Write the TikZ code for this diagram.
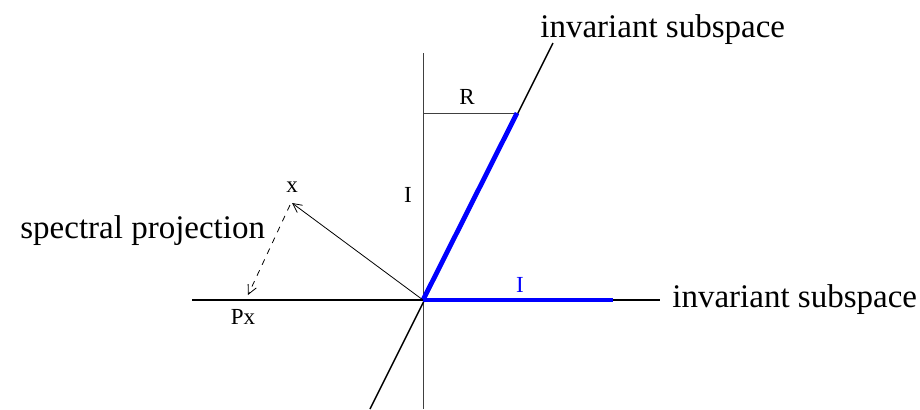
\documentclass[tikz,border=0pt]{standalone}
\usepackage{fontspec}
\setmainfont{Liberation Serif}
\usetikzlibrary{arrows, arrows.meta, positioning}
\tikzstyle{axisline} = [black, line width=0.75pt]
\tikzstyle{thinline} = [black!75, line width=0.5pt]
\tikzstyle{invline} = [blue, line width=2.4pt]
\tikzstyle{arrow} = [line width=0.4pt, ->, >={Straight Barb[length=4.5pt, width=4.5pt]}]
\tikzstyle{biglabel} = [font=\fontsize{16.5}{19}\selectfont, inner sep=0pt]
\tikzstyle{smalllabel} = [font=\fontsize{11.5}{14}\selectfont, inner sep=0pt]

\begin{document}
\begin{tikzpicture}[x=0.5pt, y=-0.5pt]
\useasboundingbox (0,0) rectangle (920,409);

% origin and line ends
\coordinate (O) at (423,300);
\coordinate (vtop) at (423,53);
\coordinate (vbot) at (423,409);
\coordinate (hleft) at (192,300);
\coordinate (hright) at (660,300);
\coordinate (otop) at (553,43);
\coordinate (obot) at (370,409);
\coordinate (rend) at (517,113);
\coordinate (rstart) at (423,113);
\coordinate (iend) at (613,300);
\coordinate (xpt) at (292,203);
\coordinate (pxpt) at (248,295);

\draw [thinline] (vtop) -- (vbot);
\draw [thinline] (rstart) -- (rend);
\draw [axisline] (hleft) -- (hright);
\draw [axisline] (obot) -- (otop);
\draw [invline] (O) -- (rend);
\draw [invline] (O) -- (iend);
\draw [arrow] (O) -- (xpt);
\draw [arrow, dashed] ([xshift=-1pt,yshift=-1pt]xpt) -- (pxpt);

\node (sub1) [biglabel, anchor=base west] at (540,37) {invariant subspace};
\node (sub2) [biglabel, anchor=base west] at (672,307) {invariant subspace};
\node (proj) [biglabel, anchor=base west] at (20,238) {spectral projection};
\node (xlab) [smalllabel] at (292,187) {x};
\node (pxlab) [smalllabel] at (243,317) {Px};
\node (rlab) [smalllabel] at (467,97) {R};
\node (ilab) [smalllabel] at (408,195) {I};
\node (iblue) [smalllabel, text=blue] at (520,285) {I};

\end{tikzpicture}
\end{document}
